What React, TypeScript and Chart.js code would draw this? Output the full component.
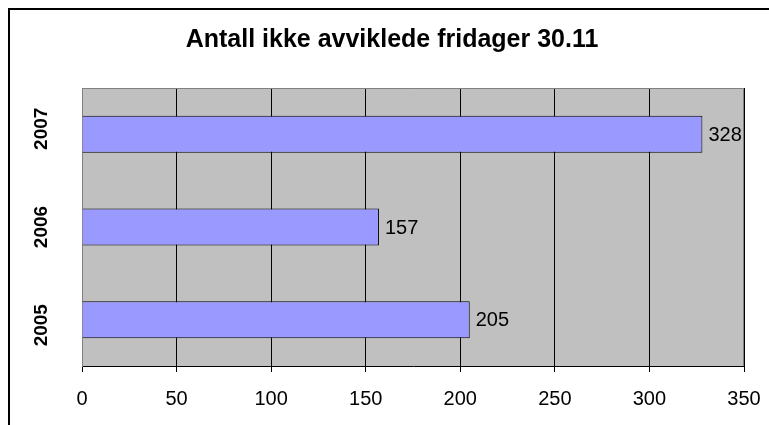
import React, { useEffect, useRef } from "react";
import { Chart, registerables } from "chart.js";

Chart.register(...registerables);

const title = "Antall ikke avviklede fridager 30.11";
const categories = ["2007", "2006", "2005"];
const values = [328, 157, 205];
const xMin = 0;
const xMax = 350;
const xStep = 50;

const FONT = "'Liberation Sans', Arial, sans-serif";

const decorPlugin = {
  id: "decor",
  beforeDraw(chart: any) {
    const { ctx, chartArea: a, width, height } = chart;
    ctx.save();
    ctx.fillStyle = "#ffffff";
    ctx.fillRect(0, 0, width, height);
    ctx.fillStyle = "#000000";
    ctx.fillRect(0, 0, width, 2);
    ctx.fillRect(0, 0, 2, height);
    ctx.fillStyle = "#c0c0c0";
    ctx.fillRect(a.left, a.top, a.right - a.left, a.bottom - a.top);
    ctx.restore();
  },
  afterDraw(chart: any) {
    const { ctx, chartArea: a } = chart;
    ctx.save();
    ctx.strokeStyle = "#808080";
    ctx.lineWidth = 1;
    ctx.beginPath();
    ctx.moveTo(a.left, a.top + 0.5);
    ctx.lineTo(a.right - 0.5, a.top + 0.5);
    ctx.lineTo(a.right - 0.5, a.bottom);
    ctx.stroke();

    // title
    ctx.fillStyle = "#000";
    ctx.font = `bold 25px ${FONT}`;
    ctx.textAlign = "center";
    ctx.textBaseline = "middle";
    ctx.fillText(title, 384, 32);

    // y category labels (rotated)
    const yScale = chart.scales.y;
    const mid = (a.top + a.bottom) / 2;
    ctx.font = `bold 19px ${FONT}`;
    categories.forEach((c, i) => {
      const ty = yScale.getPixelForTick(i);
      const y = mid + (ty - mid) * 1.06;
      ctx.save();
      ctx.translate(34, y);
      ctx.rotate(-Math.PI / 2);
      ctx.textAlign = "center";
      ctx.textBaseline = "middle";
      ctx.fillText(c, 0, 0);
      ctx.restore();
    });

    // data labels
    const meta = chart.getDatasetMeta(0);
    ctx.font = `20px ${FONT}`;
    ctx.textAlign = "left";
    ctx.textBaseline = "middle";
    meta.data.forEach((bar: any, i: number) => {
      ctx.fillText(String(values[i]), bar.x + 6, bar.y + 1);
    });
    ctx.restore();
  },
};

export default function App() {
  const ref = useRef<HTMLCanvasElement | null>(null);
  useEffect(() => {
    if (!ref.current) return;
    const chart = new Chart(ref.current, {
      type: "bar",
      data: {
        labels: categories,
        datasets: [
          {
            data: values,
            backgroundColor: "#9999ff",
            borderColor: "#000000",
            borderWidth: 1,
            barPercentage: 0.8,
            categoryPercentage: 0.5,
          },
        ],
      },
      options: {
        indexAxis: "y",
        responsive: false,
        animation: false,
        maintainAspectRatio: false,
        layout: { padding: { top: 80, right: 25, left: 0, bottom: 0 } },
        plugins: {
          legend: { display: false },
          title: { display: false },
          tooltip: { enabled: false },
        },
        scales: {
          x: {
            min: xMin,
            max: xMax,
            ticks: {
              stepSize: xStep,
              color: "#000",
              font: { family: FONT, size: 20 },
              padding: 15,
            },
            grid: {
              color: "#000000",
              lineWidth: 1,
              tickLength: 6,
              tickColor: "#000",
            },
            border: { color: "#000", width: 1 },
            afterFit(scale: any) {
              scale.height = 59;
              scale.paddingLeft = 0;
              scale.paddingRight = 0;
            },
          },
          y: {
            ticks: { display: false },
            grid: { display: false },
            border: { color: "#808080", width: 1 },
            afterFit(scale: any) {
              scale.width = 74;
            },
          },
        },
      },
      plugins: [decorPlugin],
    });
    return () => chart.destroy();
  }, []);
  return (
    <div style={{ position: "fixed", left: 8, top: 8, width: 761, height: 417 }}>
      <canvas ref={ref} width={761} height={417} style={{ display: "block" }} />
    </div>
  );
}
